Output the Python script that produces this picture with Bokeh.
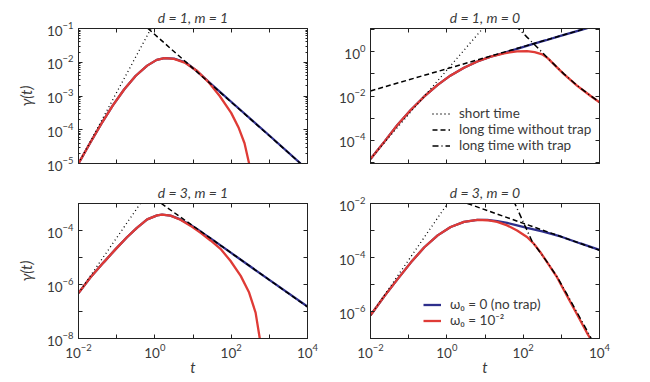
import numpy as np
from bokeh.plotting import figure
from bokeh.layouts import gridplot
from bokeh.models import (LogAxis, FixedTicker, Legend, LegendItem,
                          CustomJSTickFormatter, Range1d)
from bokeh.embed import file_html
from bokeh.resources import INLINE

# ---------------- data: log10(t) and log10(gamma) ----------------
# panel d=1, m=1
a_red_logt = [-2.0, -1.7, -1.4, -1.1, -0.8, -0.5, -0.2, 0.05, 0.25, 0.5, 0.8, 1.1, 1.4, 1.7, 2.0, 2.2, 2.35, 2.47]
a_red_logg = [-5.0, -4.4, -3.82, -3.28, -2.8, -2.4, -2.1, -1.93, -1.88, -1.9, -2.02, -2.25, -2.58, -3.0, -3.5, -3.95, -4.4, -5.0]
a_blue_logt = [-2.0, -1.7, -1.4, -1.1, -0.8, -0.5, -0.2, 0.05, 0.25, 0.5, 0.8, 1.1, 1.5, 2.0, 3.0, 3.82]
a_blue_logg = [-5.0, -4.4, -3.82, -3.28, -2.8, -2.4, -2.1, -1.93, -1.88, -1.89, -2.0, -2.26, -2.67, -3.17, -4.17, -5.0]
a_short_logt = [-2.0, -0.1]
a_short_logg = [-5.0, -1.0]
a_long_logt = [-0.18, 3.82]
a_long_logg = [-1.0, -5.0]

# panel d=1, m=0
b_red_logt = [-2.0, -1.63, -1.29, -0.94, -0.59, -0.24, 0.1, 0.45, 0.8, 1.15, 1.5, 1.84, 2.1, 2.3, 2.5, 2.65, 2.8, 3.06, 3.41, 3.76, 4.0]
b_red_logg = [-4.85, -4.05, -3.3, -2.62, -2.02, -1.5, -1.07, -0.72, -0.44, -0.22, -0.07, 0.02, 0.03, -0.02, -0.12, -0.3, -0.56, -1.0, -1.53, -1.99, -2.29]
b_blue_logt = [-2.0, -1.63, -1.29, -0.94, -0.59, -0.24, 0.1, 0.45, 0.8, 1.15, 1.5, 1.84, 2.2, 2.6, 3.0, 3.5, 4.0]
b_blue_logg = [-4.85, -4.05, -3.3, -2.62, -2.02, -1.5, -1.07, -0.72, -0.44, -0.22, -0.05, 0.13, 0.32, 0.52, 0.73, 0.98, 1.23]
b_short_logt = [-2.0, 0.95]
b_short_logg = [-4.83, 1.07]
b_long_logt = [-2.0, 4.0]
b_long_logg = [-1.77, 1.23]
b_trap_logt = [1.8, 1.9, 2.1, 2.3, 2.5, 2.65, 2.8, 3.06, 3.41, 3.76, 4.0]
b_trap_logg = [1.18, 1.01, 0.66, 0.32, -0.03, -0.3, -0.55, -0.99, -1.52, -1.98, -2.28]

# panel d=3, m=1
c_red_logt = [-2.0, -1.69, -1.34, -1.02, -0.73, -0.47, -0.2, 0.06, 0.19, 0.41, 0.67, 0.93, 1.2, 1.46, 1.72, 1.98, 2.25, 2.47, 2.64, 2.75]
c_red_logg = [-6.32, -5.74, -5.18, -4.68, -4.25, -3.9, -3.59, -3.44, -3.41, -3.45, -3.6, -3.82, -4.09, -4.37, -4.68, -5.12, -5.68, -6.3, -7.04, -8.0]
c_blue_logt = [-2.0, -1.69, -1.34, -1.02, -0.73, -0.47, -0.2, 0.06, 0.19, 0.41, 0.67, 0.93, 1.2, 1.5, 2.0, 3.0, 4.0]
c_blue_logg = [-6.32, -5.74, -5.18, -4.68, -4.25, -3.9, -3.59, -3.44, -3.41, -3.45, -3.59, -3.79, -4.04, -4.33, -4.83, -5.83, -6.82]
c_short_logt = [-2.0, -0.38]
c_short_logg = [-6.32, -3.0]
c_long_logt = [0.17, 4.0]
c_long_logg = [-3.0, -6.83]

# panel d=3, m=0
d_red_logt = [-2.0, -1.63, -1.29, -0.94, -0.59, -0.24, 0.1, 0.45, 0.8, 1.06, 1.32, 1.58, 1.84, 2.1, 2.28, 2.45, 2.63, 2.89, 3.15, 3.41, 3.67, 3.76]
d_red_logg = [-6.14, -5.42, -4.8, -4.18, -3.62, -3.18, -2.87, -2.68, -2.61, -2.62, -2.68, -2.81, -3.0, -3.24, -3.49, -3.8, -4.18, -4.74, -5.42, -6.1, -6.79, -7.0]
d_blue_logt = [-2.0, -1.63, -1.29, -0.94, -0.59, -0.24, 0.1, 0.45, 0.8, 1.06, 1.32, 1.58, 1.84, 2.1, 2.5, 3.0, 3.5, 4.0]
d_blue_logg = [-6.14, -5.42, -4.8, -4.18, -3.62, -3.18, -2.87, -2.68, -2.61, -2.61, -2.65, -2.72, -2.81, -2.9, -3.03, -3.23, -3.48, -3.72]
d_short_logt = [-2.0, 0.02]
d_short_logg = [-6.14, -2.0]
d_long_logt = [0.54, 4.0]
d_long_logg = [-2.0, -3.73]
d_trap_logt = [1.75, 2.0, 2.24, 2.45, 2.63, 2.89, 3.15, 3.41, 3.67, 3.8]
d_trap_logg = [-1.9, -2.68, -3.42, -3.82, -4.17, -4.72, -5.37, -6.03, -6.7, -7.05]

# axes
x_major_exp = [-2, 0, 2, 4]
x_minor_exp = [-1, 1, 3]
titles = ["d = 1, m = 1", "d = 1, m = 0", "d = 3, m = 1", "d = 3, m = 0"]
legend_style_labels = ["short time", "long time without trap", "long time with trap"]
legend_curve_labels = ["ω₀ = 0 (no trap)", "ω₀ = 10⁻²"]

# ---------------- styling ----------------
FONT = "Lato"
TXT = "#3a3a3a"
FRAME = "#222222"
BLUE = "#2e2f8c"
RED = "#df3b36"
FW, FH = 229, 135


def p10(v):
    return [10.0 ** x for x in v]


def style_axis(ax, major, minor, minor_len, labels):
    ax.ticker = FixedTicker(ticks=p10(major), minor_ticks=p10(minor))
    ax.major_tick_in = 4
    ax.major_tick_out = 0
    ax.minor_tick_in = minor_len
    ax.minor_tick_out = 0
    ax.axis_line_color = FRAME
    ax.major_tick_line_color = FRAME
    ax.minor_tick_line_color = FRAME
    ax.major_label_text_font = FONT
    ax.major_label_text_font_size = "13.5px"
    ax.major_label_text_color = TXT
    ax.major_label_standoff = 5
    if not labels:
        ax.formatter = CustomJSTickFormatter(code="return ''")
        ax.major_label_standoff = 0
        ax.major_label_text_font_size = "1px"


def make_panel(title, ylo, yhi, ymaj, ymin, ymin_len, xlabels, ylabel, bl, br, bt, bb):
    p = figure(x_axis_type="log", y_axis_type="log",
               x_range=Range1d(10.0 ** -2, 10.0 ** 4), y_range=Range1d(10.0 ** ylo, 10.0 ** yhi),
               frame_width=FW, frame_height=FH,
               min_border_left=bl, min_border_right=br, min_border_top=bt, min_border_bottom=bb,
               output_backend="svg", toolbar_location=None, title=title)
    p.grid.visible = False
    p.outline_line_color = FRAME
    p.outline_line_width = 1
    p.background_fill_color = "white"
    p.border_fill_color = "white"
    p.title.align = "center"
    p.title.text_font = FONT
    p.title.text_font_style = "italic"
    p.title.text_font_size = "14px"
    p.title.text_color = TXT
    p.title.standoff = 6
    p.title.offset = 0

    style_axis(p.xaxis[0], x_major_exp, x_minor_exp, 4, xlabels)
    style_axis(p.yaxis[0], ymaj, ymin, ymin_len, True)
    if xlabels:
        p.xaxis.axis_label = "t"
        p.xaxis.axis_label_text_font = FONT
        p.xaxis.axis_label_text_font_style = "italic"
        p.xaxis.axis_label_text_font_size = "15px"
        p.xaxis.axis_label_text_color = TXT
        p.xaxis.axis_label_standoff = -3
    if ylabel:
        p.yaxis.axis_label = "γ(t)"
        p.yaxis.axis_label_text_font = FONT
        p.yaxis.axis_label_text_font_style = "italic"
        p.yaxis.axis_label_text_font_size = "15px"
        p.yaxis.axis_label_text_color = TXT
        p.yaxis.axis_label_standoff = 9

    top = LogAxis()
    style_axis(top, x_major_exp, x_minor_exp, 4, False)
    p.add_layout(top, "above")
    right = LogAxis()
    style_axis(right, ymaj, ymin, ymin_len, False)
    p.add_layout(right, "right")
    return p


def draw(p, blue_t, blue_g, red_t, red_g, short_t, short_g, long_t, long_g, trap_t=None, trap_g=None):
    rb = p.line(p10(blue_t), p10(blue_g), line_color=BLUE, line_width=2.3)
    rr = p.line(p10(red_t), p10(red_g), line_color=RED, line_width=2.3)
    rs = p.line(p10(short_t), p10(short_g), line_color="black", line_width=1.3, line_dash="1 3")
    rl = p.line(p10(long_t), p10(long_g), line_color="black", line_width=1.5, line_dash="5 3")
    rt = None
    if trap_t is not None:
        rt = p.line(p10(trap_t), p10(trap_g), line_color="black", line_width=1.5, line_dash="6 3 1 3")
    return rb, rr, rs, rl, rt


minors_a = [m + np.log10(k) for m in range(-5, -1) for k in range(2, 10)]

pa = make_panel(titles[0], -5, -1, [-5, -4, -3, -2, -1], minors_a, 2, False, True, 78, 20, 28, 10)
pb = make_panel(titles[1], -5.05, 1.05, [-4, -2, 0], [-5, -3, -1, 1], 4, False, False, 43, 15, 28, 10)
pc = make_panel(titles[2], -8, -3, [-8, -6, -4], [-7, -5, -3], 4, True, True, 78, 20, 30, 36)
pd = make_panel(titles[3], -7, -2, [-6, -4, -2], [-7, -5, -3], 4, True, False, 43, 15, 30, 36)

draw(pa, a_blue_logt, a_blue_logg, a_red_logt, a_red_logg, a_short_logt, a_short_logg, a_long_logt, a_long_logg)
_, _, bs, bl_, bt_ = draw(pb, b_blue_logt, b_blue_logg, b_red_logt, b_red_logg, b_short_logt, b_short_logg,
                          b_long_logt, b_long_logg, b_trap_logt, b_trap_logg)
draw(pc, c_blue_logt, c_blue_logg, c_red_logt, c_red_logg, c_short_logt, c_short_logg, c_long_logt, c_long_logg)
db, dr, _, _, _ = draw(pd, d_blue_logt, d_blue_logg, d_red_logt, d_red_logg, d_short_logt, d_short_logg,
                       d_long_logt, d_long_logg, d_trap_logt, d_trap_logg)


def legend(items, loc, standoff):
    lg = Legend(items=items, location=loc, background_fill_alpha=0, border_line_alpha=0,
                padding=0, spacing=0, margin=0, glyph_width=18, glyph_height=15, label_height=15,
                label_standoff=standoff, label_text_font=FONT, label_text_font_size="13.5px",
                label_text_color=TXT)
    return lg


pb.add_layout(legend([LegendItem(label=legend_style_labels[0], renderers=[bs]),
                      LegendItem(label=legend_style_labels[1], renderers=[bl_]),
                      LegendItem(label=legend_style_labels[2], renderers=[bt_])], (62, 10), 9), "center")
pd.add_layout(legend([LegendItem(label=legend_curve_labels[0], renderers=[db]),
                      LegendItem(label=legend_curve_labels[1], renderers=[dr])], (53, 10), 9), "center")

grid = gridplot([[pa, pb], [pc, pd]], toolbar_location=None)
open("out.html", "w").write(file_html(grid, INLINE))
